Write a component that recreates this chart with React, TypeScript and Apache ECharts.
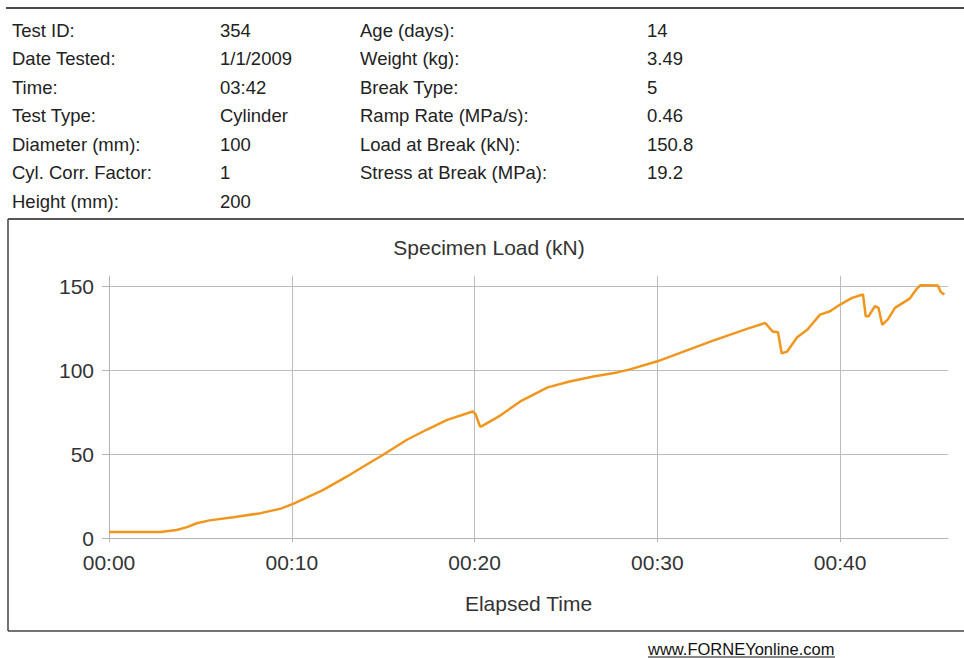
import React, { useEffect, useRef } from "react";
import * as echarts from "echarts";

const headerLeftLabels = ["Test ID:", "Date Tested:", "Time:", "Test Type:", "Diameter (mm):", "Cyl. Corr. Factor:", "Height (mm):"];
const headerLeftValues = ["354", "1/1/2009", "03:42", "Cylinder", "100", "1", "200"];
const headerRightLabels = ["Age (days):", "Weight (kg):", "Break Type:", "Ramp Rate (MPa/s):", "Load at Break (kN):", "Stress at Break (MPa):"];
const headerRightValues = ["14", "3.49", "5", "0.46", "150.8", "19.2"];

const chartTitle = "Specimen Load (kN)";
const xAxisName = "Elapsed Time";
const footerText = "www.FORNEYonline.com";

const elapsedSeconds = [
  0, 1.7, 2.8, 3.7, 4.27, 4.8, 5.5, 6.8, 8.3, 9.4, 10.1, 11.7, 13.0, 13.9, 15.0, 16.3, 17.4, 18.5, 19.9,
  20.05, 20.3, 20.4, 21.4, 22.5, 24.0, 25.2, 26.5, 27.8, 28.5, 30.0, 31.8, 33.05, 34.9, 35.9, 36.3, 36.6,
  36.8, 37.1, 37.65, 38.2, 38.9, 39.45, 40.0, 40.65, 41.25, 41.4, 41.55, 41.9, 42.1, 42.3, 42.6, 43.0,
  43.8, 44.2, 44.4, 45.35, 45.5, 45.7,
];
const loadKN = [
  3.5, 3.5, 3.6, 4.8, 6.5, 8.8, 10.5, 12.3, 14.8, 17.5, 20.5, 28.5, 36.5, 42.4, 49.6, 58.5, 64.6, 70.3, 75.3,
  73.8, 66.4, 66.6, 72.9, 81.3, 89.7, 93.2, 96.2, 98.6, 100.4, 105.2, 112.5, 117.5, 124.5, 128, 123, 122.5,
  110, 111, 119.5, 124, 133, 135, 139, 143, 145, 132, 132, 138, 137, 127, 130, 137,
  142.5, 148.5, 150.5, 150.3, 146.5, 145,
];

const xTicks = [0, 10, 20, 30, 40];
const yTicks = [0, 50, 100, 150];

const FONT = "Liberation Sans, Arial, sans-serif";

export default function App() {
  const ref = useRef<HTMLDivElement>(null);
  useEffect(() => {
    if (!ref.current) return;
    const chart = echarts.init(ref.current, null, { renderer: "svg" });
    const rowY = (i: number) => 30 + i * 28.5;
    const headerText: any[] = [];
    const addText = (x: number, y: number, text: string) =>
      headerText.push({
        type: "text",
        x,
        y,
        style: { text, fill: "#222", font: `18.5px ${FONT}`, textVerticalAlign: "middle" },
      });
    headerLeftLabels.forEach((t, i) => addText(12, rowY(i), t));
    headerLeftValues.forEach((t, i) => addText(220, rowY(i), t));
    headerRightLabels.forEach((t, i) => addText(360, rowY(i), t));
    headerRightValues.forEach((t, i) => addText(647, rowY(i), t));

    const data = elapsedSeconds.map((t, i) => [t, loadKN[i]]);
    const pad = (n: number) => (n < 10 ? "0" + n : "" + n);

    chart.setOption({
      animation: false,
      backgroundColor: "#fff",
      grid: { left: 109, right: 16, top: 276, bottom: 120 },
      xAxis: {
        type: "value",
        min: 0,
        max: 45.9,
        interval: 10,
        name: xAxisName,
        nameLocation: "middle",
        nameGap: 55,
        nameTextStyle: { fontSize: 21, color: "#333", fontFamily: FONT },
        axisLine: { show: true, lineStyle: { color: "#b4b4b4", width: 1 } },
        axisTick: { show: true, customValues: xTicks, length: 4, lineStyle: { color: "#b4b4b4" } },
        axisLabel: {
          customValues: xTicks,
          formatter: (v: number) => "00:" + pad(Math.round(v)),
          fontSize: 21,
          color: "#333",
          fontFamily: FONT,
          margin: 14,
        },
        splitLine: { show: true, lineStyle: { color: "#bdbdbd", width: 1 } },
      },
      yAxis: {
        type: "value",
        min: 0,
        max: 156,
        interval: 50,
        axisLine: { show: true, lineStyle: { color: "#b4b4b4", width: 1 } },
        axisTick: { show: true, customValues: yTicks, length: 7, lineStyle: { color: "#b4b4b4" } },
        axisLabel: { customValues: yTicks, fontSize: 21, color: "#333", fontFamily: FONT, margin: 15 },
        splitLine: { show: true, lineStyle: { color: "#bdbdbd", width: 1 } },
      },
      series: [
        {
          type: "line",
          data,
          showSymbol: false,
          lineStyle: { color: "#F0961E", width: 2.5 },
          z: 3,
        },
      ],
      graphic: [
        ...headerText,
        { type: "line", shape: { x1: 6, y1: 8, x2: 964, y2: 8 }, style: { stroke: "#4a4a4a", lineWidth: 2 } },
        { type: "line", shape: { x1: 8, y1: 219, x2: 964, y2: 219 }, style: { stroke: "#555", lineWidth: 2 } },
        { type: "line", shape: { x1: 8, y1: 219, x2: 8, y2: 631 }, style: { stroke: "#444", lineWidth: 1.5 } },
        { type: "line", shape: { x1: 8, y1: 631, x2: 964, y2: 631 }, style: { stroke: "#444", lineWidth: 1.5 } },
        {
          type: "text",
          x: 489,
          y: 247,
          style: { text: chartTitle, fill: "#333", font: `21px ${FONT}`, textAlign: "center", textVerticalAlign: "middle" },
        },
        {
          type: "text",
          x: 648,
          y: 649,
          style: { text: footerText, fill: "#111", font: `16.5px ${FONT}`, textVerticalAlign: "middle" },
        },
        { type: "line", shape: { x1: 648, y1: 657, x2: 835, y2: 657 }, style: { stroke: "#111", lineWidth: 1 } },
      ],
    });
    return () => chart.dispose();
  }, []);
  return (
    <div
      ref={ref}
      style={{ position: "absolute", left: 0, top: 0, width: 964, height: 658, background: "#fff" }}
    />
  );
}
